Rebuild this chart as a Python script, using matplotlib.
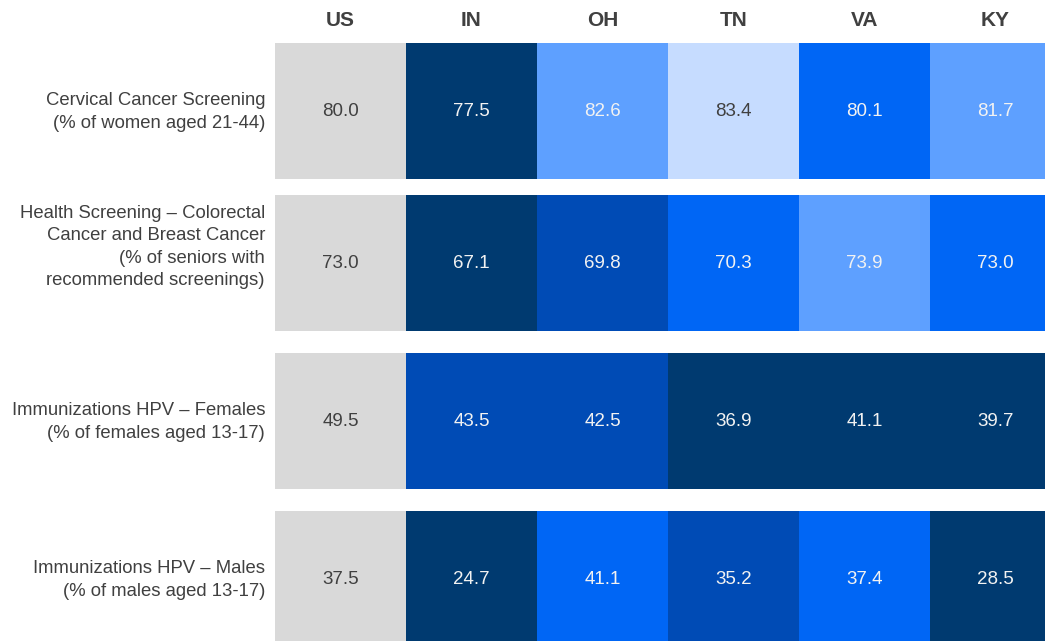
import numpy as np
import matplotlib.pyplot as plt

plt.rcParams['font.family'] = ['Liberation Sans', 'DejaVu Sans']

states = ["US", "IN", "OH", "TN", "VA", "KY"]
measures = [
    "Cervical Cancer Screening\n(% of women aged 21-44)",
    "Health Screening \u2013 Colorectal\nCancer and Breast Cancer\n(% of seniors with\nrecommended screenings)",
    "Immunizations HPV \u2013 Females\n(% of females aged 13-17)",
    "Immunizations HPV \u2013 Males\n(% of males aged 13-17)",
]
cervical = [80.0, 77.5, 82.6, 83.4, 80.1, 81.7]
colorectal_breast = [73.0, 67.1, 69.8, 70.3, 73.9, 73.0]
hpv_females = [49.5, 43.5, 42.5, 36.9, 41.1, 39.7]
hpv_males = [37.5, 24.7, 41.1, 35.2, 37.4, 28.5]
values = [cervical, colorectal_breast, hpv_females, hpv_males]

# shade level of each cell (0 = benchmark grey, 1 darkest ... 5 lightest)
shades = [
    [0, 1, 4, 5, 3, 4],
    [0, 1, 2, 3, 4, 3],
    [0, 2, 2, 1, 1, 1],
    [0, 1, 3, 2, 3, 1],
]
palette = {0: "#d9d9d9", 1: "#003a70", 2: "#004bb5", 3: "#0066f5",
           4: "#5ea0ff", 5: "#c6dcff"}

fig = plt.figure(figsize=(10.45, 6.41), dpi=100)
ax = fig.add_axes([0, 0, 1, 1])
ax.set_xlim(0, 1045)
ax.set_ylim(641, 0)
ax.axis("off")

x0, cw = 275, 131
row_tops = [43, 195, 353, 511]
rh = 136
label_shift = [1, -16, 1, 1]
txt = "#404040"

for j, s in enumerate(states):
    ax.text(x0 + cw * (j + 0.5), 21, s, ha="center", va="center",
            fontsize=15, fontweight="bold", color=txt)

for i, row in enumerate(values):
    top = row_tops[i]
    lefts = x0 + cw * np.arange(len(states))
    cols = [palette[k] for k in shades[i]]
    ax.bar(lefts, rh, width=cw, bottom=top, align="edge", color=cols,
           linewidth=0)
    for j, v in enumerate(row):
        c = txt if shades[i][j] in (0, 5) else "#f2f2f2"
        ax.text(x0 + cw * (j + 0.5), top + rh / 2, f"{v:.1f}", ha="center",
                va="center", fontsize=13.5, color=c)
    ax.text(265, top + rh / 2 + label_shift[i], measures[i], ha="right",
            va="center", fontsize=13.3, color=txt,
            linespacing=1.5 if i != 1 else 1.4)

fig.savefig("out.png", dpi=100)
